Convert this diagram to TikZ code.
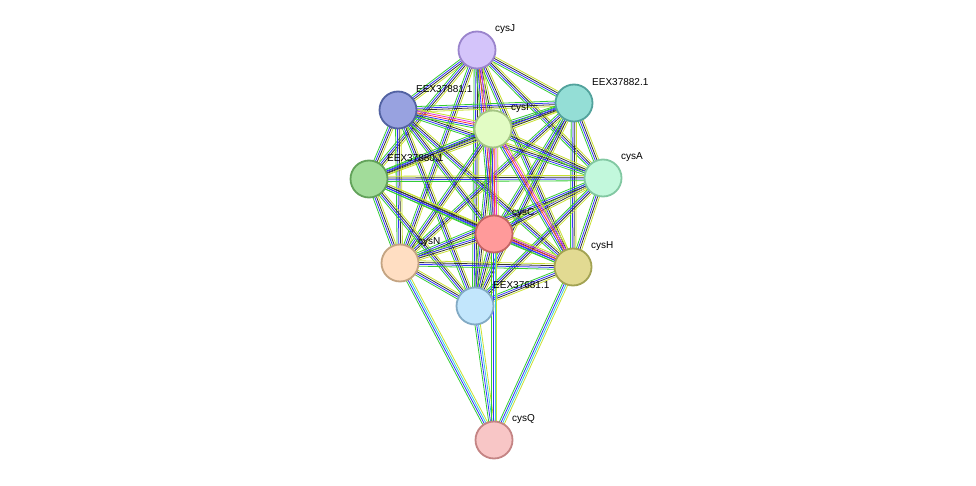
\documentclass[tikz,border=0pt]{standalone}
\usepackage{fontspec}
\setmainfont{Liberation Sans}
\usetikzlibrary{calc,backgrounds}
\definecolor{eg}{HTML}{33CC33}
\definecolor{eb}{HTML}{3333FF}
\definecolor{ek}{HTML}{333333}
\definecolor{ey}{HTML}{C8E030}
\definecolor{er}{HTML}{FF3333}
\definecolor{em}{HTML}{DD33DD}
\definecolor{ec}{HTML}{33CCDD}
\tikzset{
 prot/.style={circle,minimum size=37pt,inner sep=0,line width=1.8pt},
 lab/.style={anchor=west,inner sep=0,font=\fontsize{10}{12}\selectfont},
 el/.style={line width=0.8pt}
}
\newcommand\ed[3]{\foreach \c [count=\i] in {#3}{%
 \pgfmathsetmacro\o{(\i-2.5)*1.8}%
 \draw[el,\c] ($(#1.center)!\o pt!90:(#2.center)$) -- ($(#2.center)!\o pt!-90:(#1.center)$);}}
\begin{document}
\begin{tikzpicture}[x=1pt,y=-1pt]
\useasboundingbox (0,0) rectangle (976,486);
\def\N#1#2#3#4#5#6{\definecolor{f#1}{HTML}{#4}\definecolor{d#1}{HTML}{#5}%
 \node[prot,fill=f#1,draw=d#1] (#1) at (#2,#3) {};
 \node[lab] (l#1) at (#2+18,#3-21) {#6};}
\N{J}{477}{50}{D4C4FA}{9A84CC}{cysJ}
\N{E2}{574}{103}{94DED6}{52A29C}{EEX37882.1}
\N{E1}{398}{110}{98A2E0}{5262A2}{EEX37881.1}
\N{I}{493}{129}{E2FCC4}{A4C484}{cysI}
\N{E0}{369}{179}{A2DC9A}{62A25A}{EEX37880.1}
\N{A}{603}{178}{C2F8DC}{82C8A2}{cysA}
\N{C}{494}{234}{FF9A9A}{C46464}{cysC}
\N{Nn}{400}{263}{FFDEC2}{C4A482}{cysN}
\N{H}{573}{267}{E2DA92}{A2A252}{cysH}
\N{X}{475}{306}{C2E6FC}{82AAC4}{EEX37681.1}
\N{Q}{494}{440}{F8C6C6}{C48484}{cysQ}
\begin{scope}[on background layer]
\foreach \a/\b in {J/E2,J/E1,J/I,J/E0,J/A,J/Nn,J/H,J/X,
 E2/E1,E2/I,E2/E0,E2/A,E2/C,E2/Nn,E2/H,E2/X,
 E1/E0,E1/A,E1/C,E1/Nn,E1/H,E1/X,
 I/E0,I/A,I/Nn,I/X,
 E0/A,E0/C,E0/Nn,E0/H,E0/X,
 A/C,A/Nn,A/H,A/X,
 C/Nn,C/X,Nn/H,Nn/X,H/X}{\ed{\a}{\b}{eg,eb,ek,ey}}
\foreach \a/\b in {J/C,I/C,I/H,C/H,E1/I}{\ed{\a}{\b}{eg,eb,er,em,ey}}
\foreach \a/\b in {Nn/Q,X/Q,C/Q,H/Q}{\ed{\a}{\b}{eg,eb,ec,ey}}
\end{scope}
\end{tikzpicture}
\end{document}
